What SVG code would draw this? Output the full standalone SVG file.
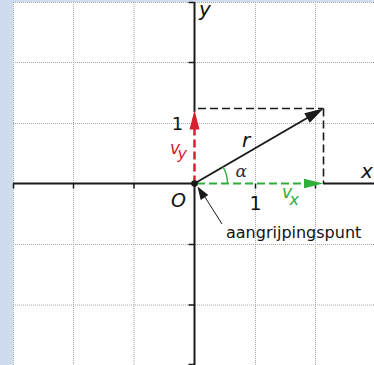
<svg xmlns="http://www.w3.org/2000/svg" width="374" height="365" viewBox="0 0 374 365">
  <defs>
    <style>
      .grid { stroke: #a8a8a8; stroke-width: 1; stroke-dasharray: 1 1; fill: none; }
      .axis { stroke: #1a1a1a; stroke-width: 2; fill: none; }
      .tick { stroke: #1a1a1a; stroke-width: 1.5; fill: none; }
      .dash { stroke: #1a1a1a; stroke-width: 1.6; stroke-dasharray: 8 4; fill: none; }
      .vec { stroke: #1a1a1a; stroke-width: 2; fill: none; }
      .red { stroke: #d7202f; stroke-width: 2.5; stroke-dasharray: 8 4; fill: none; }
      .green { stroke: #2fae3a; stroke-width: 2.2; stroke-dasharray: 8 4; fill: none; }
      .headk { fill: #1a1a1a; }
      .headr { fill: #d7202f; }
      .headg { fill: #2fae3a; }
      .lbl { font-family: "DejaVu Sans", sans-serif; fill: #111; }
      .it { font-style: italic; }
    </style>
  </defs>

  <!-- background -->
  <rect x="0" y="0" width="374" height="365" fill="#cfdbee"/>
  <rect x="13" y="2" width="361" height="363" fill="#ffffff"/>

  <!-- grid -->
  <g id="grid">
    <line class="grid" x1="13.5" y1="2" x2="13.5" y2="365"/>
    <line class="grid" x1="73.5" y1="2" x2="73.5" y2="365"/>
    <line class="grid" x1="134" y1="2" x2="134" y2="365"/>
    <line class="grid" x1="255.5" y1="2" x2="255.5" y2="365"/>
    <line class="grid" x1="315.5" y1="2" x2="315.5" y2="365"/>
    <line class="grid" x1="13" y1="2.5" x2="374" y2="2.5"/>
    <line class="grid" x1="13" y1="62.5" x2="374" y2="62.5"/>
    <line class="grid" x1="13" y1="123.5" x2="374" y2="123.5"/>
    <line class="grid" x1="13" y1="244.5" x2="374" y2="244.5"/>
    <line class="grid" x1="13" y1="305" x2="374" y2="305"/>
  </g>

  <!-- axes (hidden where the component vectors lie on them) -->
  <g id="axes">
    <line class="axis" x1="13" y1="183.5" x2="194.5" y2="183.5"/>
    <line class="axis" x1="323" y1="183.5" x2="374" y2="183.5"/>
    <line class="axis" x1="194.5" y1="2" x2="194.5" y2="112"/>
    <line class="axis" x1="194.5" y1="183.5" x2="194.5" y2="365"/>
    <rect x="193" y="112" width="3" height="71" fill="#ffffff"/>
    <rect x="196" y="182" width="127" height="3" fill="#ffffff"/>
    <path class="tick" d="M13.5,183.5 v5 M73.5,183.5 v5 M134,183.5 v5 M255.5,183.5 v5 M315.5,183.5 v5"/>
    <path class="tick" d="M194.5,2.5 h-6 M194.5,62.5 h-6 M194.5,244.5 h-6 M194.5,305 h-6 M194.5,364.5 h-6"/>
  </g>

  <!-- connectors -->
  <g id="connectors">
    <!-- projection box -->
    <line class="dash" x1="198" y1="108.5" x2="323.5" y2="108.5"/>
    <line class="dash" x1="323.5" y1="108.5" x2="323.5" y2="183"/>
    <!-- v_y -->
    <line class="red" x1="194.5" y1="183.5" x2="194.5" y2="128"/>
    <polygon class="headr" points="194.5,110 189.5,129.5 199.5,129.5"/>
    <!-- v_x -->
    <line class="green" x1="197" y1="183.5" x2="306" y2="183.5"/>
    <polygon class="headg" points="323.5,183.5 304,178.8 304,188.2"/>
    <!-- r -->
    <line class="vec" x1="194.5" y1="183.5" x2="308" y2="117.5"/>
    <polygon class="headk" points="323.5,108.5 304.3,113.3 309.8,122.8"/>
    <!-- angle arc -->
    <path d="M227.5,183.5 A33,33 0 0 0 223.03,166.9" stroke="#2fae3a" stroke-width="1.3" fill="none"/>
    <!-- pointer -->
    <line x1="222" y1="224" x2="203" y2="194" stroke="#1a1a1a" stroke-width="1"/>
    <polygon class="headk" points="197.5,186.5 208.3,195 200.7,199.9"/>
  </g>

  <!-- origin -->
  <g id="origin">
    <circle cx="194.5" cy="183.5" r="3.3" fill="#1a1a1a"/>
    <text class="lbl it" x="171" y="206.5" font-size="19">O</text>
  </g>

  <!-- labels -->
  <g id="labels">
    <text class="lbl it" x="199" y="16" font-size="20">y</text>
    <text class="lbl it" x="361" y="178" font-size="20">x</text>
    <text class="lbl" x="255.5" y="210" font-size="19" text-anchor="middle">1</text>
    <text class="lbl" x="177.5" y="130" font-size="18" text-anchor="middle">1</text>
    <text class="lbl it" x="242" y="146.5" font-size="20">r</text>
    <text x="235.5" y="177" font-size="17" font-family="DejaVu Serif, serif" font-style="italic" fill="#333">α</text>
    <text class="lbl it" x="282" y="198" font-size="17" style="fill:#2fae3a">v<tspan dx="-2.5" dy="6.5" font-size="16">x</tspan></text>
    <text class="lbl it" x="170" y="154.3" font-size="17" style="fill:#d7202f">v<tspan dx="-2.5" dy="4.5" font-size="16">y</tspan></text>
    <text class="lbl" x="226" y="237.5" font-size="16">aangrijpingspunt</text>
  </g>
</svg>
